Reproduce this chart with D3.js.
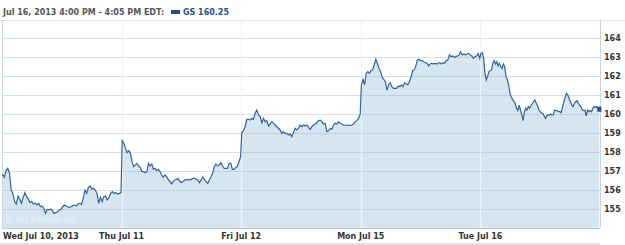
<!DOCTYPE html>
<html>
<head>
<meta charset="utf-8">
<script src="https://cdnjs.cloudflare.com/ajax/libs/d3/7.8.5/d3.min.js"></script>
<style>
  body { margin: 0; background: #fff; }
  text { font-family: Tahoma, Verdana, "DejaVu Sans", sans-serif; }
</style>
</head>
<body>
<div id="viz"></div>
<script>
// GS intraday, 5 sessions
const days = ["Wed Jul 10, 2013", "Thu Jul 11", "Fri Jul 12", "Mon Jul 15", "Tue Jul 16"];
const yTicks = [155, 156, 157, 158, 159, 160, 161, 162, 163, 164];

const wed = [156.84,156.67,157.02,157.14,156.91,156.0,155.82,155.39,155.26,155.68,155.51,155.30,155.61,155.86,155.65,155.51,155.33,155.39,155.26,155.30,155.21,155.30,155.12,155.16,155.04,154.77,154.98,154.95,155.0,154.91,154.77,154.81,154.86,154.95,154.98,155.12,155.21,155.16,155.12,155.09,155.12,155.19,155.21,155.16,155.26,155.30,155.25,155.56,156.0,155.82,156.14,156.21,156.04,156.09,156.0,155.82,155.30,155.61,155.39,155.65,155.68,155.47,155.61,155.82,155.91,155.82,155.86,155.79,155.82,155.86];
const thu = [158.60,158.46,158.19,157.97,158.07,157.93,157.49,157.23,157.32,157.40,157.26,157.19,156.97,156.97,156.91,156.97,157.40,157.26,157.37,157.09,157.14,157.02,157.09,156.97,156.79,156.67,156.79,156.70,156.56,156.44,156.32,156.44,156.53,156.56,156.61,156.44,156.39,156.44,156.53,156.53,156.56,156.53,156.56,156.61,156.61,156.56,156.53,156.39,156.53,156.70,156.53,156.44,156.35,156.53,156.70,156.88,157.23,157.37,157.26,157.32,157.44,157.26,157.14,157.14,157.14,157.40,157.40,157.09,157.09,157.19,157.23,157.49,157.75];
const fri = [159.04,159.12,159.33,159.72,159.72,159.68,159.77,159.72,160.04,160.21,159.95,159.86,159.54,159.77,159.60,159.65,159.37,159.47,159.60,159.51,159.42,159.33,159.25,159.16,158.98,159.07,158.98,158.98,158.90,158.95,158.81,159.02,159.25,159.16,159.25,159.42,159.33,159.42,159.37,159.42,159.30,159.19,159.33,159.42,159.47,159.54,159.65,159.68,159.60,159.47,159.51,159.07,159.12,159.25,159.19,159.42,159.51,159.47,159.60,159.51,159.47,159.42,159.42,159.40,159.42,159.40,159.42,159.47,159.60,159.65,159.77,160.0];
const mon = [161.53,161.82,161.53,162.14,162.23,162.14,162.28,162.32,162.58,162.88,162.67,162.40,162.23,161.93,161.82,161.70,161.26,161.53,161.65,161.44,161.35,161.35,161.35,161.47,161.44,161.53,161.44,161.65,161.58,161.53,161.70,161.93,162.28,162.32,162.53,162.84,162.88,162.81,162.81,162.75,162.70,162.67,162.53,162.63,162.67,162.63,162.67,162.63,162.67,162.70,162.63,162.70,162.67,162.81,162.84,163.11,163.02,163.05,162.98,163.02,163.05,163.11,163.28,163.11,163.16,163.11,163.16,163.19,163.11,163.05,162.93,163.02,163.05,163.19,162.93];
const tue = [163.19,163.23,162.93,162.14,161.79,161.97,162.23,162.28,162.32,162.67,162.81,162.63,162.75,162.53,162.67,162.49,162.40,162.63,162.49,161.97,161.82,161.53,161.09,160.88,160.77,160.65,160.56,160.30,160.18,160.47,160.21,159.95,159.65,160.12,160.30,160.21,160.39,160.30,160.47,160.53,160.65,160.74,160.56,160.42,160.21,160.12,160.04,160.04,159.90,159.77,159.90,159.95,159.95,160.0,159.95,159.95,160.21,160.18,160.18,160.12,160.12,160.07,160.39,160.65,160.88,161.09,161.0,160.82,160.65,160.47,160.39,160.56,160.65,160.70,160.56,160.47,160.39,160.21,160.18,160.21,159.90,160.21,160.12,160.18,160.12,160.30,160.39,160.35,160.39,160.25,160.25];

const sessions = [wed, thu, fri, mon, tue];
const lastPrice = 160.25;

const width = 625, height = 245;
const plotL = 2, plotR = 600, plotT = 20, plotB = 228;

const svg = d3.select("#viz").append("svg")
  .attr("width", width)
  .attr("height", height);

const x = d3.scaleLinear().domain([0, 5]).range([plotL, plotR]);
const y = d3.scaleLinear().domain([154, 165]).range([plotB, plotT - 1]);

// flatten sessions -> points spread over each day
let points = [];
sessions.forEach((s, i) => {
  s.forEach((v, j) => {
    points.push({ t: i + 0.005 + j / (s.length - 1) * 0.99, v: v });
  });
});

// header
svg.append("line").attr("x1", 0).attr("x2", width).attr("y1", plotT + 0.5).attr("y2", plotT + 0.5)
  .attr("stroke", "#e3e6ea");
svg.append("text").attr("x", 3).attr("y", 15)
  .style("font-size", "8px").style("font-weight", "bold").style("fill", "#555")
  .text("Jul 16, 2013 4:00 PM - 4:05 PM EDT:");
svg.append("rect").attr("x", 171).attr("y", 10).attr("width", 9).attr("height", 4).attr("fill", "#1f4f8a");
svg.append("text").attr("x", 183).attr("y", 15)
  .style("font-size", "8px").style("font-weight", "bold").style("fill", "#245396")
  .text("GS " + lastPrice.toFixed(2));

// area + line
const area = d3.area().x(d => x(d.t)).y0(plotB).y1(d => y(d.v));
const line = d3.line().x(d => x(d.t)).y(d => y(d.v));

svg.append("path").datum(points).attr("d", area).attr("fill", "#d6e6f1");

// horizontal grid
svg.append("g").selectAll("line").data(yTicks).join("line")
  .attr("x1", plotL).attr("x2", plotR)
  .attr("y1", d => Math.round(y(d)) + 0.5).attr("y2", d => Math.round(y(d)) + 0.5)
  .attr("stroke", "#9fb9d2").attr("stroke-opacity", 0.45);

// day separators
svg.append("g").selectAll("line").data(d3.range(1, 5)).join("line")
  .attr("x1", d => Math.round(x(d)) + 0.5).attr("x2", d => Math.round(x(d)) + 0.5)
  .attr("y1", plotT + 1).attr("y2", plotB)
  .attr("stroke", "#eef2f6").attr("stroke-width", 1.2);

// frame
svg.append("line").attr("x1", plotL + 0.5).attr("x2", plotL + 0.5).attr("y1", plotT).attr("y2", plotB)
  .attr("stroke", "#c8d4e0");
svg.append("line").attr("x1", plotR + 0.5).attr("x2", plotR + 0.5).attr("y1", plotT).attr("y2", plotB)
  .attr("stroke", "#c8d4e0");
svg.append("line").attr("x1", plotL).attr("x2", plotR).attr("y1", plotB + 0.5).attr("y2", plotB + 0.5)
  .attr("stroke", "#b9c9d8");

svg.append("text").attr("x", 5).attr("y", 222)
  .style("font-size", "7.5px").style("fill", "#ecf2f8")
  .text("\u00a9 2013 Yahoo! Inc.");

svg.append("path").datum(points).attr("d", line)
  .attr("fill", "none").attr("stroke", "#30639a").attr("stroke-width", 1.2);

// end marker
const lastPt = points[points.length - 1];
svg.append("rect").attr("x", x(lastPt.t) - 2).attr("y", y(lastPt.v) - 2.5)
  .attr("width", 4).attr("height", 5).attr("fill", "#1f4f8a");

// y labels
svg.append("g").selectAll("text").data(yTicks).join("text")
  .attr("x", 604).attr("y", d => y(d) + 3)
  .style("font-size", "8px").style("font-weight", "bold").style("fill", "#333")
  .text(d => d);

// x labels
svg.append("g").selectAll("text").data(days).join("text")
  .attr("x", (d, i) => i === 0 ? 3 : x(i))
  .attr("y", 239)
  .attr("text-anchor", (d, i) => i === 0 ? "start" : "middle")
  .style("font-size", "8px").style("font-weight", "bold").style("fill", "#333")
  .text(d => d);

// bottom band
svg.append("rect").attr("x", 0).attr("y", 243).attr("width", 600).attr("height", 2).attr("fill", "#e4e4e4");
</script>
</body>
</html>
